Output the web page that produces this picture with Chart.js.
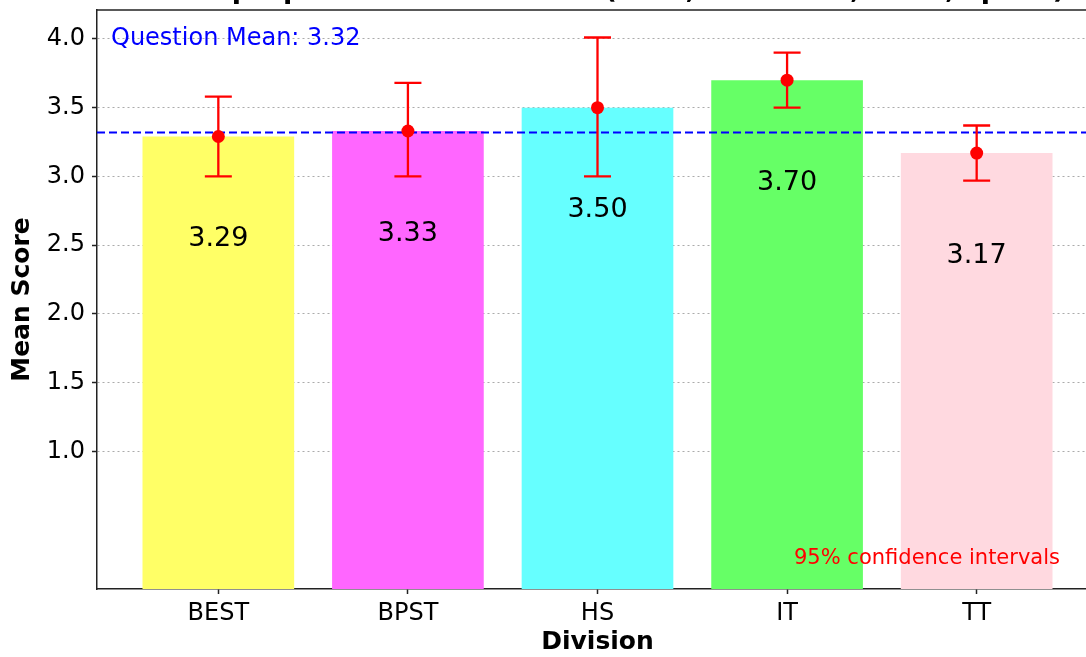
<!DOCTYPE html>
<html>
<head>
<meta charset="utf-8">
<script src="https://cdn.jsdelivr.net/npm/chart.js@4.4.1/dist/chart.umd.min.js"></script>
<style>
    html, body { margin: 0; padding: 0; overflow: hidden; background: #fff; }
    /* the reference is cropped: title cut at top, right spine off-screen */
    #wrap { position: absolute; left: 0; top: -30px; width: 1120px; height: 687px; }
</style>
</head>
<body>
<div id="wrap"><canvas id="meanChart"></canvas></div>
<script>
const divisions = ['BEST', 'BPST', 'HS', 'IT', 'TT'];
const meanScores = [3.29, 3.33, 3.50, 3.70, 3.17];
const ciLower = [3.00, 3.00, 3.00, 3.50, 2.97];
const ciUpper = [3.58, 3.68, 4.01, 3.90, 3.37];
const barColors = ['#ffff66', '#ff66ff', '#66ffff', '#66ff66', '#ffd9e0'];
const questionMean = 3.32;
const yTickValues = [1.0, 1.5, 2.0, 2.5, 3.0, 3.5, 4.0];
const chartTitle = 'Uses proper use of resources (time, hardware, tools, space)';

const FONT = "'DejaVu Sans', 'Noto Sans', sans-serif";
const labelDrop = 0.745; // value labels sit this far below the bar top (data units)

const points = divisions.map((d, i) => ({ x: i, y: meanScores[i] }));

const overlayPlugin = {
    id: 'overlay',
    beforeDatasetDraw(chart, args) {
        if (args.meta.type !== 'scatter') return;
        const { ctx, chartArea, scales: { x, y } } = chart;
        ctx.save();

        // Dashed question mean line
        const my = y.getPixelForValue(questionMean);
        ctx.strokeStyle = '#0000ff';
        ctx.lineWidth = 2;
        ctx.setLineDash([8, 4]);
        ctx.beginPath();
        ctx.moveTo(chartArea.left, my);
        ctx.lineTo(chartArea.right, my);
        ctx.stroke();
        ctx.setLineDash([]);

        // Confidence interval whiskers
        ctx.strokeStyle = '#ff0000';
        ctx.lineWidth = 2.3;
        divisions.forEach((d, i) => {
            const px = x.getPixelForValue(i);
            const lo = y.getPixelForValue(ciLower[i]);
            const hi = y.getPixelForValue(ciUpper[i]);
            ctx.beginPath();
            ctx.moveTo(px, lo); ctx.lineTo(px, hi);
            ctx.moveTo(px - 13.5, lo); ctx.lineTo(px + 13.5, lo);
            ctx.moveTo(px - 13.5, hi); ctx.lineTo(px + 13.5, hi);
            ctx.stroke();
        });
        ctx.restore();
    },
    afterDatasetsDraw(chart) {
        const { ctx, chartArea, scales: { x, y } } = chart;
        ctx.save();

        // Value labels inside bars
        ctx.font = `27px ${FONT}`;
        ctx.fillStyle = '#000';
        ctx.textAlign = 'center';
        ctx.textBaseline = 'middle';
        divisions.forEach((d, i) => {
            ctx.fillText(meanScores[i].toFixed(2), x.getPixelForValue(i), y.getPixelForValue(meanScores[i] - labelDrop));
        });

        // Question mean text
        ctx.font = `24px ${FONT}`;
        ctx.fillStyle = '#0000ff';
        ctx.textAlign = 'left';
        ctx.fillText(`Question Mean: ${questionMean.toFixed(2)}`, chartArea.left + 14, chartArea.top + 29);

        // CI note
        ctx.font = `21px ${FONT}`;
        ctx.fillStyle = '#ff0000';
        ctx.textAlign = 'right';
        ctx.fillText('95% confidence intervals', chartArea.left + 963, chartArea.bottom - 30);

        // Top spine
        ctx.strokeStyle = '#222';
        ctx.lineWidth = 1.5;
        ctx.beginPath();
        ctx.moveTo(chartArea.left, chartArea.top);
        ctx.lineTo(chartArea.right, chartArea.top);
        ctx.stroke();

        // Title (mostly cropped in the reference)
        ctx.font = `bold 27px ${FONT}`;
        ctx.fillStyle = '#000';
        ctx.textAlign = 'center';
        ctx.textBaseline = 'alphabetic';
        ctx.fillText(chartTitle, (chartArea.left + chartArea.right) / 2 + 10, chartArea.top - 12);
        ctx.restore();
    }
};

const ctx = document.getElementById('meanChart').getContext('2d');

const chart = new Chart(ctx, {
    type: 'bar',
    data: {
        datasets: [
            {
                type: 'scatter',
                data: points,
                order: -1,
                pointRadius: 6.5,
                pointHoverRadius: 6.5,
                pointBackgroundColor: '#ff0000',
                pointBorderColor: '#ff0000',
                pointBorderWidth: 0,
                showLine: false
            },
            {
                type: 'bar',
                data: points,
                backgroundColor: barColors,
                borderWidth: 0,
                barPercentage: 0.8,
                categoryPercentage: 1.0
            }
        ]
    },
    options: {
        responsive: true,
        maintainAspectRatio: false,
        animation: false,
        layout: {
            padding: { top: 40, right: 22, left: 0, bottom: 0 }
        },
        plugins: {
            legend: { display: false },
            tooltip: { enabled: false },
            title: { display: false }
        },
        scales: {
            x: {
                type: 'linear',
                min: -0.64,
                max: 4.64,
                offset: false,
                afterBuildTicks: (scale) => {
                    scale.ticks = divisions.map((d, i) => ({ value: i }));
                },
                afterFit: (scale) => { scale.height = 68; },
                ticks: {
                    autoSkip: false,
                    maxRotation: 0,
                    padding: 5,
                    color: '#000',
                    font: { family: FONT, size: 24 },
                    callback: (v) => divisions[v]
                },
                grid: {
                    offset: false,
                    drawOnChartArea: false,
                    tickLength: 5,
                    tickColor: '#222',
                    tickWidth: 1.5
                },
                border: { color: '#222', width: 1.5 },
                title: {
                    display: true,
                    text: 'Division',
                    color: '#000',
                    font: { family: FONT, size: 25, weight: 'bold' },
                    padding: { top: 4, bottom: 0 }
                }
            },
            y: {
                min: 0,
                max: 4.21,
                afterBuildTicks: (scale) => {
                    scale.ticks = yTickValues.map(v => ({ value: v }));
                },
                afterFit: (scale) => { scale.width = 97; },
                ticks: {
                    padding: 7,
                    color: '#000',
                    font: { family: FONT, size: 24 },
                    callback: (v) => v.toFixed(1)
                },
                grid: {
                    color: 'rgba(150,150,150,0.8)',
                    lineWidth: 1,
                    tickLength: 5,
                    tickColor: '#222',
                    tickWidth: 1.5,
                    tickBorderDash: []
                },
                border: { color: '#222', width: 1.5, dash: [2, 3] },
                title: {
                    display: true,
                    text: 'Mean Score',
                    color: '#000',
                    font: { family: FONT, size: 25, weight: 'bold' },
                    padding: { top: 7, bottom: 0 }
                }
            }
        }
    },
    plugins: [overlayPlugin]
});
</script>
</body>
</html>
